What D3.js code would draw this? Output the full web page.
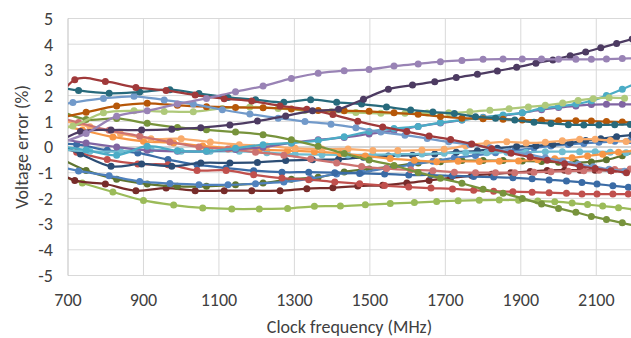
<!DOCTYPE html>
<html>
<head>
<meta charset="utf-8">
<script src="https://cdn.jsdelivr.net/npm/d3@7/dist/d3.min.js"></script>
<style>
  body { margin: 0; background: #fff; }
  svg text { font-family: Carlito, Calibri, "Liberation Sans", sans-serif; fill: #404040; }
</style>
</head>
<body>
<div id="chart"></div>
<script>
// shared frequency grid (MHz); each series may be shifted a little
const freqs = [668, 748, 829, 910, 990, 1067, 1144, 1217, 1292, 1363, 1432, 1498, 1564,
  1628, 1687, 1744, 1800, 1853, 1904, 1955, 2000, 2046, 2087, 2127, 2169, 2210];

const xTicks = [700, 900, 1100, 1300, 1500, 1700, 1900, 2100];
const yTicks = [-5, -4, -3, -2, -1, 0, 1, 2, 3, 4, 5];

// voltage error (%) per chip
const lavender = [0.1, 0.53, 1.2, 1.41, 1.67, 1.89, 2.15, 2.37, 2.67, 2.87, 2.97, 3.02, 3.15, 3.23, 3.32, 3.37, 3.41, 3.42, 3.42, 3.42, 3.41, 3.41, 3.41, 3.42, 3.44, 3.45];
const darkPurple = [0.0, 0.6, 0.66, 0.66, 0.69, 0.75, 0.86, 1.01, 1.21, 1.41, 1.47, 1.86, 2.25, 2.41, 2.54, 2.7, 2.83, 2.96, 3.1, 3.26, 3.39, 3.55, 3.7, 3.86, 4.03, 4.2];
const topRed = [0.9, 2.62, 2.55, 2.32, 2.2, 2.02, 1.88, 1.79, 1.6, 1.47, 1.26, 1.0, 0.78, 0.6, 0.43, 0.29, 0.12, -0.07, -0.24, -0.39, -0.52, -0.65, -0.75, -0.84, -0.92, -1.0];
const teal = [2.4, 2.2, 2.09, 2.14, 2.23, 2.08, 1.93, 1.84, 1.74, 1.84, 1.74, 1.67, 1.56, 1.44, 1.36, 1.3, 1.18, 1.12, 1.05, 0.96, 0.91, 0.87, 0.86, 0.86, 0.87, 0.88];
const lightBlue = [1.55, 1.73, 1.89, 1.97, 1.83, 1.67, 1.45, 1.28, 1.12, 0.99, 0.89, 0.75, 0.58, 0.46, 0.33, 0.2, 0.1, -0.03, -0.17, -0.29, -0.42, -0.55, -0.67, -0.77, -0.87, -0.94];
const darkOrange = [1.1, 1.35, 1.6, 1.7, 1.62, 1.57, 1.54, 1.53, 1.48, 1.42, 1.41, 1.39, 1.33, 1.27, 1.19, 1.12, 1.1, 1.08, 1.05, 1.04, 1.02, 1.02, 1.01, 0.99, 0.97, 0.95];
const lightGreen = [0.6, 0.82, 1.33, 1.41, 1.38, 1.37, 1.5, 1.56, 1.5, 1.42, 1.37, 1.34, 1.31, 1.31, 1.32, 1.33, 1.37, 1.43, 1.49, 1.56, 1.62, 1.71, 1.81, 1.88, 1.92, 1.9];
const olive = [1.48, 1.07, 1.11, 0.92, 0.76, 0.67, 0.58, 0.48, 0.28, 0.03, -0.25, -0.51, -0.72, -0.99, -1.22, -1.41, -1.64, -1.8, -2.0, -2.22, -2.39, -2.54, -2.7, -2.82, -2.95, -3.1];
const pink = [1.25, 0.95, 0.65, 0.42, 0.19, 0.0, -0.08, -0.2, -0.32, -0.47, -0.62, -0.76, -0.84, -0.89, -0.92, -0.98, -1.0, -1.0, -1.0, -0.98, -0.96, -0.94, -0.92, -0.9, -0.88, -0.86];
const orange = [0.95, 0.66, 0.39, 0.22, 0.16, 0.04, -0.05, -0.1, -0.14, -0.18, -0.25, -0.35, -0.45, -0.52, -0.57, -0.55, -0.56, -0.55, -0.54, -0.5, -0.46, -0.42, -0.35, -0.28, -0.2, -0.15];
const lightOrange = [1.05, 0.79, 0.52, 0.32, 0.32, 0.19, 0.09, 0.04, -0.05, -0.08, -0.08, -0.14, -0.14, -0.12, -0.09, 0.05, 0.15, 0.2, 0.16, 0.18, 0.24, 0.3, 0.3, 0.25, 0.21, 0.2];
const purple = [0.35, 0.16, 0.0, -0.13, -0.17, -0.17, -0.1, -0.01, 0.16, 0.28, 0.37, 0.51, 0.64, 0.8, 0.93, 1.05, 1.16, 1.22, 1.33, 1.45, 1.54, 1.6, 1.65, 1.66, 1.66, 1.66];
const aqua = [0.05, -0.12, -0.32, 0.03, -0.15, -0.17, -0.05, 0.09, 0.16, 0.25, 0.4, 0.6, 0.72, 0.8, 0.95, 1.05, 1.15, 1.25, 1.33, 1.5, 1.58, 1.67, 1.8, 2.0, 2.25, 2.5];
const lightAqua = [-0.1, -0.17, -0.17, -0.1, -0.17, -0.17, -0.17, -0.22, -0.28, -0.3, -0.31, -0.3, -0.28, -0.27, -0.24, -0.22, -0.22, -0.2, -0.2, -0.18, -0.18, -0.18, -0.18, -0.2, -0.22, -0.22];
const red = [0.15, -0.2, -0.49, -0.66, -0.69, -0.91, -0.91, -1.08, -1.21, -1.27, -1.36, -1.43, -1.5, -1.56, -1.6, -1.63, -1.68, -1.72, -1.74, -1.76, -1.78, -1.8, -1.83, -1.83, -1.83, -1.83];
const navy = [0.25, -0.27, -0.75, -0.66, -0.75, -0.62, -0.62, -0.6, -0.53, -0.5, -0.48, -0.4, -0.35, -0.32, -0.27, -0.2, -0.15, -0.05, 0.02, 0.05, 0.1, 0.16, 0.25, 0.32, 0.4, 0.47];
const blue = [0.1, 0.1, -0.13, -0.23, -0.49, -0.69, -0.82, -0.92, -0.98, -0.98, -1.0, -1.03, -1.05, -1.09, -1.09, -1.12, -1.15, -1.17, -1.2, -1.24, -1.28, -1.32, -1.38, -1.44, -1.51, -1.57];
const blue2 = [-0.65, -0.93, -1.12, -1.34, -1.42, -1.47, -1.47, -1.43, -1.36, -1.23, -1.05, -0.98, -0.83, -0.7, -0.55, -0.42, -0.33, -0.22, -0.14, -0.04, 0.04, 0.1, 0.14, 0.18, 0.22, 0.25];
const darkGreen = [-0.35, -0.91, -1.25, -1.44, -1.53, -1.53, -1.47, -1.4, -1.25, -1.18, -0.97, -0.86, -0.75, -0.62, -0.57, -0.53, -0.53, -0.53, -0.54, -0.56, -0.59, -0.61, -0.58, -0.5, -0.34, -0.15];
const maroon = [-0.7, -1.3, -1.44, -1.7, -1.6, -1.7, -1.7, -1.7, -1.7, -1.62, -1.59, -1.52, -1.49, -1.4, -1.3, -1.2, -1.11, -1.06, -1.0, -0.95, -0.91, -0.9, -0.9, -0.9, -0.92, -0.95];
const green = [-1.0, -1.4, -1.75, -2.08, -2.26, -2.37, -2.41, -2.41, -2.39, -2.31, -2.3, -2.25, -2.2, -2.16, -2.12, -2.09, -2.07, -2.06, -2.07, -2.1, -2.13, -2.18, -2.24, -2.3, -2.36, -2.43];

const series = [
  { values: green, color: '#9bbb59', shift: -10 },
  { values: maroon, color: '#772c2a', shift: -30 },
  { values: darkGreen, color: '#5f7530', shift: 0 },
  { values: blue2, color: '#4f81bd', shift: -20 },
  { values: blue, color: '#3a6ba5', shift: -25 },
  { values: red, color: '#c0504d', shift: -25 },
  { values: navy, color: '#2c4d75', shift: -15 },
  { values: lightAqua, color: '#6fbdd1', shift: 10 },
  { values: orange, color: '#f79646', shift: -10 },
  { values: lightOrange, color: '#f9ab6b', shift: 10 },
  { values: pink, color: '#cd7371', shift: -20 },
  { values: purple, color: '#8064a2', shift: 0 },
  { values: aqua, color: '#4bacc6', shift: 0 },
  { values: olive, color: '#77933c', shift: 0 },
  { values: lightGreen, color: '#afc97a', shift: -35 },
  { values: darkOrange, color: '#b65708', shift: 0 },
  { values: lightBlue, color: '#729aca', shift: -35 },
  { values: teal, color: '#276a7c', shift: -20 },
  { values: topRed, color: '#a0393a', shift: -30 },
  { values: darkPurple, color: '#4d3b62', shift: -15 },
  { values: lavender, color: '#9983b5', shift: 0 }
];

const width = 631, height = 338;
const margin = { top: 18.5, right: -3, bottom: 62.5, left: 68 };
const fontSize = 18;

const svg = d3.select('#chart').append('svg')
  .attr('width', width)
  .attr('height', height);

const x = d3.scaleLinear().domain([700, 2200]).range([margin.left, width - margin.right]);
const y = d3.scaleLinear().domain([-5, 5]).range([height - margin.bottom, margin.top]);

// gridlines
svg.append('g').selectAll('line')
  .data(yTicks)
  .join('line')
  .attr('x1', margin.left).attr('x2', width)
  .attr('y1', d => y(d)).attr('y2', d => y(d))
  .attr('stroke', '#d9d9d9').attr('stroke-width', 1);

svg.append('g').selectAll('line')
  .data(xTicks.slice(1))
  .join('line')
  .attr('x1', d => x(d)).attr('x2', d => x(d))
  .attr('y1', y(5)).attr('y2', y(-5))
  .attr('stroke', '#d9d9d9').attr('stroke-width', 1);

// axis lines: value axis at left, category axis crossing at 0
svg.append('line')
  .attr('x1', x(700)).attr('x2', x(700))
  .attr('y1', y(5)).attr('y2', y(-5))
  .attr('stroke', '#bfbfbf');
svg.append('line')
  .attr('x1', x(700)).attr('x2', width)
  .attr('y1', y(0)).attr('y2', y(0))
  .attr('stroke', '#bfbfbf');

// tick labels
svg.append('g').selectAll('text')
  .data(yTicks)
  .join('text')
  .attr('x', 53)
  .attr('y', d => y(d))
  .attr('dy', '0.35em')
  .attr('text-anchor', 'end')
  .attr('font-size', fontSize)
  .text(d => d);

svg.append('g').selectAll('text')
  .data(xTicks)
  .join('text')
  .attr('x', d => x(d))
  .attr('y', 300)
  .attr('dy', '0.35em')
  .attr('text-anchor', 'middle')
  .attr('font-size', fontSize)
  .text(d => d);

svg.append('text')
  .attr('x', (x(700) + width) / 2)
  .attr('y', 327)
  .attr('dy', '0.35em')
  .attr('text-anchor', 'middle')
  .attr('font-size', fontSize)
  .text('Clock frequency (MHz)');

svg.append('text')
  .attr('transform', `translate(22,${y(0)}) rotate(-90)`)
  .attr('dy', '0.35em')
  .attr('text-anchor', 'middle')
  .attr('font-size', fontSize)
  .text('Voltage error (%)');

// series, clipped to the plot area like the original
svg.append('clipPath').attr('id', 'plot')
  .append('rect')
  .attr('x', x(700)).attr('y', y(5) - 5)
  .attr('width', width - x(700)).attr('height', y(-5) - y(5) + 10);

const line = d3.line()
  .x(d => x(d.f))
  .y(d => y(d.v))
  .curve(d3.curveCatmullRom);

const plot = svg.append('g').attr('clip-path', 'url(#plot)');

series.forEach(s => {
  const pts = s.values.map((v, i) => ({ f: freqs[i] + s.shift, v: v }));
  const g = plot.append('g');
  g.append('path')
    .datum(pts)
    .attr('d', line)
    .attr('fill', 'none')
    .attr('stroke', s.color)
    .attr('stroke-width', 2.25);
  g.selectAll('circle')
    .data(pts)
    .join('circle')
    .attr('cx', d => x(d.f))
    .attr('cy', d => y(d.v))
    .attr('r', 3.5)
    .attr('fill', s.color);
});
</script>
</body>
</html>
